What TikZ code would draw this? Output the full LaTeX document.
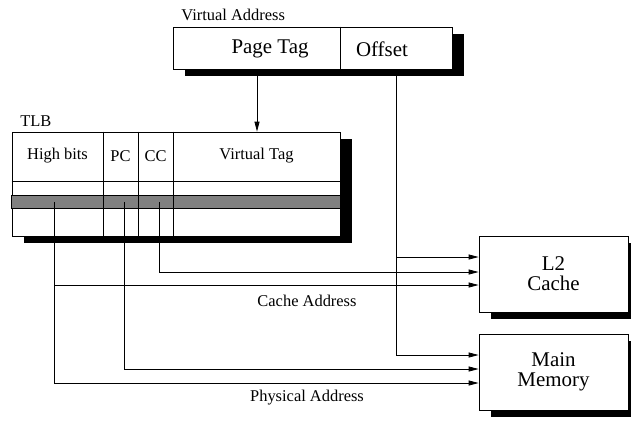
\documentclass[tikz,border=0pt]{standalone}
\usepackage{fontspec}
\setmainfont{Liberation Serif}
\usetikzlibrary{arrows.meta, shadows}

\newcommand\smallfnt{\fontsize{16.5}{18}\selectfont}
\newcommand\bigfnt{\fontsize{21}{20}\selectfont}

\tikzset{
  unit/.style={draw, fill=white, inner sep=0pt,
    drop shadow={shadow xshift=12bp, shadow yshift=-7bp, opacity=1, fill=black}},
  lbl/.style={font=\smallfnt, inner sep=0pt},
  big/.style={font=\bigfnt, inner sep=0pt, align=center},
}

\begin{document}
\begin{tikzpicture}[x=1bp, y=-1bp, line width=0.8bp, >={Triangle[length=10bp,width=5bp]}]
\useasboundingbox (0,0) rectangle (631,420);

% the four boxes
\node[unit, minimum width=279bp, minimum height=42bp] (va) at (312.5,48) {};
\node[unit, minimum width=328bp, minimum height=104bp] (tlb) at (176,184) {};
\node[unit, big, minimum width=149bp, minimum height=76bp] (l2) at (553.5,274) {L2\\Cache};
\node[unit, big, minimum width=149bp, minimum height=76bp] (mm) at (553.5,372) {Main\\Memory};

% virtual address
\draw (va.north -| 340,0) -- (va.south -| 340,0);
\node[big] (ptag) at (270,49) {Page Tag};
\node[big] (offs) at (382,49) {Offset};
\node[lbl, anchor=west] (valbl) at (181,15) {Virtual Address};

% tlb rows and fields
\filldraw[fill=gray] (tlb.west |- 0,195) rectangle (tlb.east |- 0,208);
\draw (tlb.west |- 0,181) -- (tlb.east |- 0,181);
\foreach \x in {103,138,173}
  \draw (tlb.north -| \x,0) -- (tlb.south -| \x,0);
\node[lbl] (hbits) at (57.5,156) {High bits};
\node[lbl] (pcf) at (120.5,156) {PC};
\node[lbl] (ccf) at (155.5,156) {CC};
\node[lbl] (vtag) at (256.5,156) {Virtual Tag};
\node[lbl, anchor=west] (tlblbl) at (20,121) {TLB};

% taps
\coordinate (tag) at (257,69);
\coordinate (off) at (396,69);
\coordinate (hb) at (54,202);
\coordinate (pc) at (124,202);
\coordinate (cc) at (159,202);

\draw[->] (tag) -- (tlb.north -| tag);
\draw[->] (off) |- (mm.west |- 0,355);
\draw[->] (off |- 0,257) -- (l2.west |- 0,257);
\draw[->] (cc) |- (l2.west |- 0,272);
\draw[->] (hb) |- (l2.west |- 0,285);
\draw[->] (pc) |- (mm.west |- 0,369);
\draw[->] (hb) |- (mm.west |- 0,383);

\node[lbl] (cadr) at (307,301) {Cache Address};
\node[lbl] (padr) at (307,398) {Physical Address};

\end{tikzpicture}
\end{document}
